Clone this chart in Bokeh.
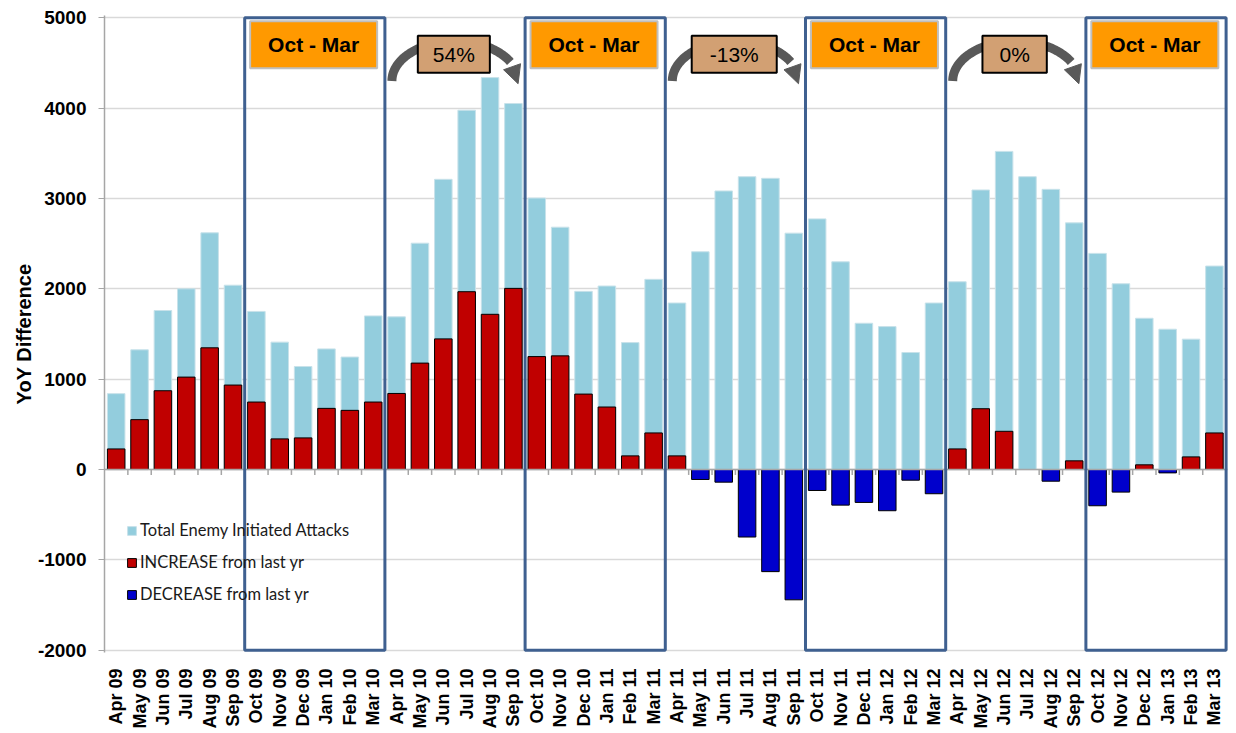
import math
import numpy as np
from bokeh.plotting import figure
from bokeh.models import (ColumnDataSource, Range1d, FixedTicker, Span, Legend,
                          LegendItem, Label, Arrow, NormalHead)
from bokeh.embed import file_html
from bokeh.resources import INLINE
from bokeh.core.properties import value

# ---------------- data ----------------
months = ["Apr 09", "May 09", "Jun 09", "Jul 09", "Aug 09", "Sep 09",
          "Oct 09", "Nov 09", "Dec 09", "Jan 10", "Feb 10", "Mar 10",
          "Apr 10", "May 10", "Jun 10", "Jul 10", "Aug 10", "Sep 10",
          "Oct 10", "Nov 10", "Dec 10", "Jan 11", "Feb 11", "Mar 11",
          "Apr 11", "May 11", "Jun 11", "Jul 11", "Aug 11", "Sep 11",
          "Oct 11", "Nov 11", "Dec 11", "Jan 12", "Feb 12", "Mar 12",
          "Apr 12", "May 12", "Jun 12", "Jul 12", "Aug 12", "Sep 12",
          "Oct 12", "Nov 12", "Dec 12", "Jan 13", "Feb 13", "Mar 13"]

total_attacks = [840, 1325, 1760, 2000, 2620, 2040, 1750, 1410, 1140, 1335, 1245, 1700,
                 1690, 2505, 3212, 3977, 4338, 4051, 3005, 2682, 1972, 2031, 1405, 2105,
                 1843, 2410, 3083, 3241, 3223, 2616, 2774, 2299, 1619, 1582, 1295, 1843,
                 2078, 3094, 3521, 3241, 3101, 2730, 2392, 2056, 1674, 1553, 1443, 2252]

yoy_change = [228, 552, 872, 1023, 1347, 935, 747, 339, 350, 677, 655, 747,
              842, 1178, 1446, 1968, 1718, 2005, 1250, 1258, 835, 692, 151, 405,
              151, -110, -140, -747, -1130, -1442, -232, -394, -364, -456, -118, -268,
              228, 673, 423, 0, -129, 96, -401, -250, 52, -37, 140, 405]

legend_labels = ["Total Enemy Initiated Attacks", "INCREASE from last yr",
                 "DECREASE from last yr"]
period_label = "Oct - Mar"
period_starts = ["Oct 09", "Oct 10", "Oct 11", "Oct 12"]
pct_labels = ["54%", "-13%", "0%"]
pct_starts = ["Apr 10", "Apr 11", "Apr 12"]
y_ticks = [-2000, -1000, 0, 1000, 2000, 3000, 4000, 5000]
y_tick_labels = ["-2000", "-1000", "0", "1000", "2000", "3000", "4000", "5000"]

# ---------------- styles ----------------
C_TOTAL = "#93CDDD"
C_INC = "#C00000"
C_DEC = "#0000CC"
C_BOX = "#3F6090"
C_ORANGE = "#FF9900"
C_TAN = "#D2A073"
C_ARROW = "#595959"
FONT = "Liberation Sans"
pct_pad = [15, 18, 17]

xs = list(range(1, len(months) + 1))
src_total = ColumnDataSource(dict(x=xs, top=total_attacks))
inc = [(x, c) for x, c in zip(xs, yoy_change) if c > 0]
dec = [(x, c) for x, c in zip(xs, yoy_change) if c < 0]
src_inc = ColumnDataSource(dict(x=[a for a, _ in inc], top=[b for _, b in inc]))
src_dec = ColumnDataSource(dict(x=[a for a, _ in dec], top=[b for _, b in dec]))

p = figure(width=1228, height=731, output_backend="svg", toolbar_location=None,
           x_range=Range1d(0.5, 48.56), y_range=Range1d(-2025, 5025),
           min_border_left=104, min_border_right=1, min_border_top=15,
           min_border_bottom=77)
p.outline_line_color = None
p.background_fill_color = "white"

# grid
p.xgrid.grid_line_color = None
p.ygrid.ticker = FixedTicker(ticks=y_ticks)
p.ygrid.grid_line_color = "#D9D9D9"
p.ygrid.grid_line_width = 1.5

# y axis
p.yaxis.ticker = FixedTicker(ticks=y_ticks)
p.yaxis.major_label_overrides = {t: l for t, l in zip(y_ticks, y_tick_labels)}
p.yaxis.axis_label = "YoY Difference"
p.yaxis.axis_label_text_font = FONT
p.yaxis.axis_label_text_font_size = "20px"
p.yaxis.axis_label_text_font_style = "bold"
p.yaxis.axis_label_text_color = "black"
p.yaxis.axis_label_standoff = 0
p.yaxis.major_label_text_font = FONT
p.yaxis.major_label_text_font_size = "19px"
p.yaxis.major_label_text_font_style = "bold"
p.yaxis.major_label_text_color = "black"
p.yaxis.major_label_standoff = 12
p.yaxis.axis_line_color = "#A6A6A6"
p.yaxis.axis_line_width = 1.5
p.yaxis.major_tick_line_color = "#A6A6A6"
p.yaxis.major_tick_out = 6
p.yaxis.major_tick_in = 0
p.yaxis.minor_tick_line_color = None

# x axis (labels only)
p.xaxis.ticker = FixedTicker(ticks=xs)
p.xaxis.major_label_overrides = {x: m for x, m in zip(xs, months)}
p.xaxis.major_label_orientation = math.pi / 2
p.xaxis.major_label_text_font = FONT
p.xaxis.major_label_text_font_size = "18px"
p.xaxis.major_label_text_font_style = "bold"
p.xaxis.major_label_text_color = "black"
p.xaxis.major_label_standoff = 10
p.xaxis.axis_line_color = None
p.xaxis.major_tick_line_color = None
p.xaxis.minor_tick_line_color = None

# bars
r_total = p.vbar(x="x", top="top", bottom=0, width=0.75, source=src_total,
                 fill_color=C_TOTAL, line_color="#C8E2EA", line_width=1)
r_inc = p.vbar(x="x", top="top", bottom=0, width=0.75, source=src_inc,
               fill_color=C_INC, line_color="black", line_width=1)
r_dec = p.vbar(x="x", top="top", bottom=0, width=0.75, source=src_dec,
               fill_color=C_DEC, line_color="black", line_width=1)

# zero line with category-boundary ticks
p.add_layout(Span(location=0, dimension="width", line_color="#A6A6A6", line_width=1.5))
bounds = [x + 0.5 for x in xs]
p.segment(x0=bounds, y0=[0] * len(bounds), x1=bounds, y1=[-60] * len(bounds),
          line_color="#A6A6A6", line_width=1.5)

# legend
legend = Legend(items=[LegendItem(label=legend_labels[0], renderers=[r_total]),
                       LegendItem(label=legend_labels[1], renderers=[r_inc]),
                       LegendItem(label=legend_labels[2], renderers=[r_dec])],
                location=(22, 48), orientation="vertical",
                label_text_font="Lato", label_text_font_size="16.5px",
                label_text_color="#1a1a1a",
                glyph_width=11, glyph_height=11, label_standoff=3,
                spacing=12, label_height=18, padding=0, margin=0,
                border_line_color=None, background_fill_alpha=0)
p.add_layout(legend)

# Oct - Mar period boxes
lefts, rights = [], []
for s in period_starts:
    i = months.index(s) + 1
    lefts.append(i - 0.5)
    rights.append(i + 5.5)
p.quad(left=lefts, right=rights, bottom=-2000, top=5000, fill_color=None,
       line_color=C_BOX, line_width=3, level="overlay")

for s in period_starts:
    i = months.index(s) + 1
    p.add_layout(Label(x=i + 2.45, y=4700, text=period_label, text_font=FONT,
                       text_font_size="21px", text_font_style="bold",
                       text_color="black", text_align="center",
                       text_baseline="middle", background_fill_color=C_ORANGE,
                       border_line_color="#BFBFBF", border_line_width=2,
                       padding=dict(left=18, right=18, top=12, bottom=12)))

# curved arrows with percentage boxes
rx, ry, cy = 2.7, 440, 4300
t = np.linspace(np.pi, 0.5, 60)
for k, s in enumerate(pct_starts):
    i = months.index(s) + 1
    cx = i + 2.5
    p.line(cx + rx * np.cos(t), cy + ry * np.sin(t), line_width=9,
           line_color=C_ARROW)
    p.add_layout(Arrow(x_start=cx + rx * math.cos(0.5), y_start=cy + ry * math.sin(0.5),
                       x_end=cx + rx * 1.0, y_end=cy - 30, line_alpha=0,
                       end=NormalHead(size=18, fill_color=C_ARROW,
                                      line_color=C_ARROW)))
    p.add_layout(Label(x=cx - 0.05, y=4595, text=pct_labels[k], text_font=FONT,
                       text_font_size="21px", text_color="black",
                       text_align="center", text_baseline="middle",
                       background_fill_color=C_TAN, border_line_color="black",
                       border_line_width=2,
                       padding=dict(left=pct_pad[k], right=pct_pad[k], top=7, bottom=7)))

open("out.html", "w").write(file_html(p, INLINE))
